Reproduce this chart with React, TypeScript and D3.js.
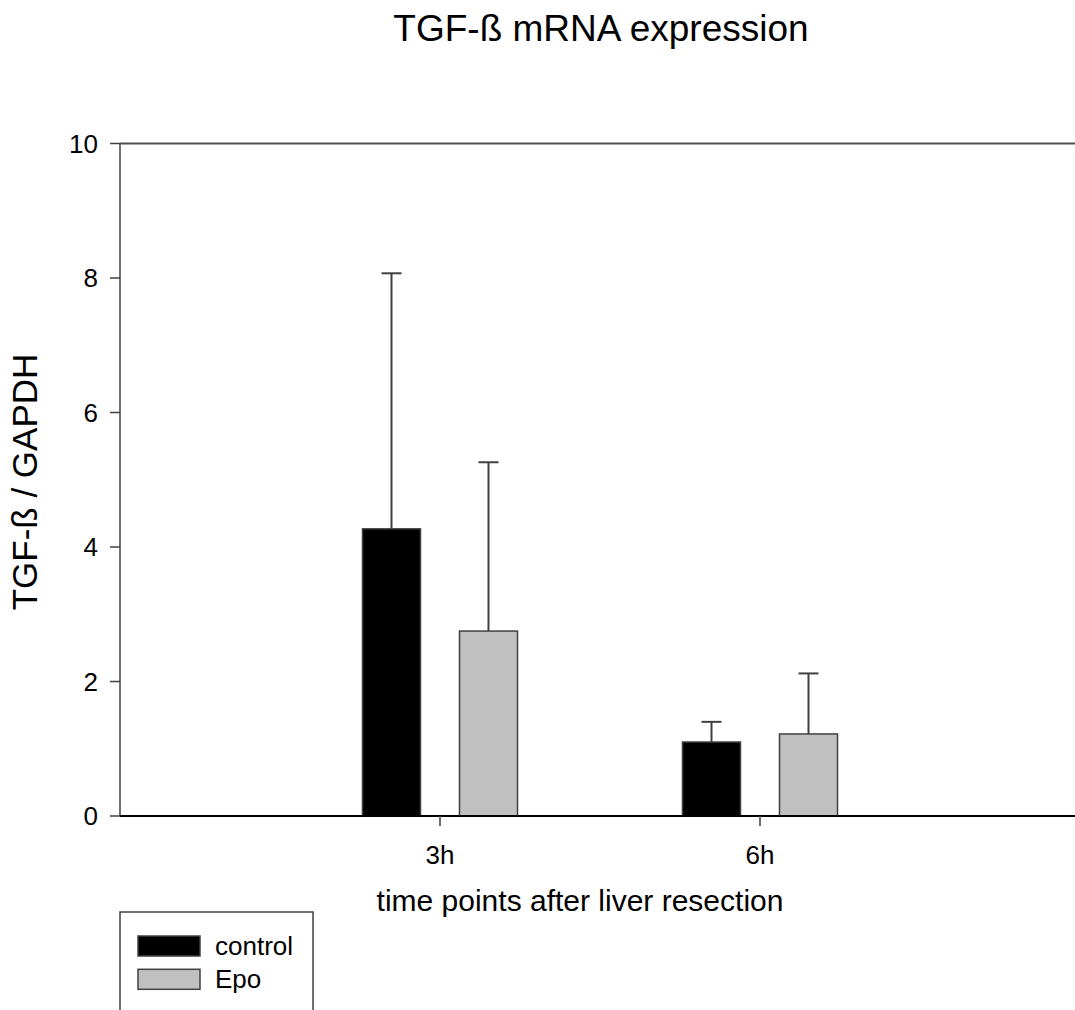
import React from 'react';
import * as d3 from 'd3';

const timePoints = ['3h', '6h'];
const seriesNames = ['control', 'Epo'];
const controlMeans = [4.27, 1.1];
const controlErrors = [3.8, 0.3];
const epoMeans = [2.75, 1.22];
const epoErrors = [2.51, 0.9];
const yTicks = [0, 2, 4, 6, 8, 10];

const seriesColors = ['#000000', '#c0c0c0'];

const width = 1075;
const height = 1010;
const left = 120;
const right = 1080;
const top = 143.5;
const bottom = 816;
const font = '"Liberation Sans", Arial, sans-serif';

const App = () => {
    const x = d3.scalePoint<string>().domain(timePoints).range([left, right]).padding(1);
    const xInner = d3.scaleBand<string>().domain(seriesNames).range([-97, 97]).paddingInner(0.402).paddingOuter(0.201);
    const y = d3.scaleLinear().domain([0, 10]).range([bottom, top]);

    const bars = seriesNames.flatMap((name, si) => {
        const means = si === 0 ? controlMeans : epoMeans;
        const errs = si === 0 ? controlErrors : epoErrors;
        return timePoints.map((t, i) => ({ name, si, t, mean: means[i], err: errs[i] }));
    });

    const bw = xInner.bandwidth();

    return (
        <svg width={width} height={height} style={{ position: 'absolute', left: 0, top: 0, background: '#fff' }} fontFamily={font}>
            <text x={601} y={41} fontSize={37} textAnchor="middle">TGF-ß mRNA expression</text>

            {/* error bars first so bars cover the lower half */}
            {bars.map(d => {
                const cx = (x(d.t) as number) + (xInner(d.name) as number) + bw / 2;
                return (
                    <g key={'e' + d.name + d.t} stroke="#404040" strokeWidth={2}>
                        <line x1={cx} x2={cx} y1={y(d.mean)} y2={y(d.mean + d.err)} />
                        <line x1={cx - 10} x2={cx + 10} y1={y(d.mean + d.err)} y2={y(d.mean + d.err)} />
                    </g>
                );
            })}
            {bars.map(d => (
                <rect key={d.name + d.t}
                    x={(x(d.t) as number) + (xInner(d.name) as number)}
                    y={y(d.mean)}
                    width={bw}
                    height={y(0) - y(d.mean)}
                    fill={seriesColors[d.si]}
                    stroke="#404040"
                    strokeWidth={1.5} />
            ))}

            {/* frame */}
            <line x1={left} x2={right} y1={top} y2={top} stroke="#505050" strokeWidth={2} />
            <line x1={left} x2={left} y1={top} y2={bottom} stroke="#404040" strokeWidth={1.5} />
            <line x1={left} x2={right} y1={bottom} y2={bottom} stroke="#000" strokeWidth={2} />

            {yTicks.map(t => (
                <g key={t}>
                    <line x1={left - 10} x2={left} y1={y(t)} y2={y(t)} stroke="#404040" strokeWidth={1.5} />
                    <text x={left - 22} y={y(t)} dy="0.35em" fontSize={26} textAnchor="end">{t}</text>
                </g>
            ))}
            {timePoints.map(t => (
                <g key={t}>
                    <line x1={x(t)} x2={x(t)} y1={bottom} y2={bottom + 10} stroke="#404040" strokeWidth={1.5} />
                    <text x={x(t)} y={864} fontSize={26} textAnchor="middle">{t}</text>
                </g>
            ))}

            <text x={580} y={911} fontSize={30} textAnchor="middle">time points after liver resection</text>
            <text transform="translate(37,482) rotate(-90)" fontSize={35} textAnchor="middle">TGF-ß / GAPDH</text>

            {/* legend */}
            <rect x={120} y={912} width={193} height={120} fill="none" stroke="#404040" strokeWidth={1.5} />
            {seriesNames.map((name, i) => (
                <g key={name} transform={`translate(138,${936 + i * 33.3})`}>
                    <rect width={62} height={20} fill={seriesColors[i]} stroke="#404040" strokeWidth={1.5} />
                    <text x={77} y={10} dy="0.35em" fontSize={26}>{name}</text>
                </g>
            ))}
        </svg>
    );
};

export default App;
